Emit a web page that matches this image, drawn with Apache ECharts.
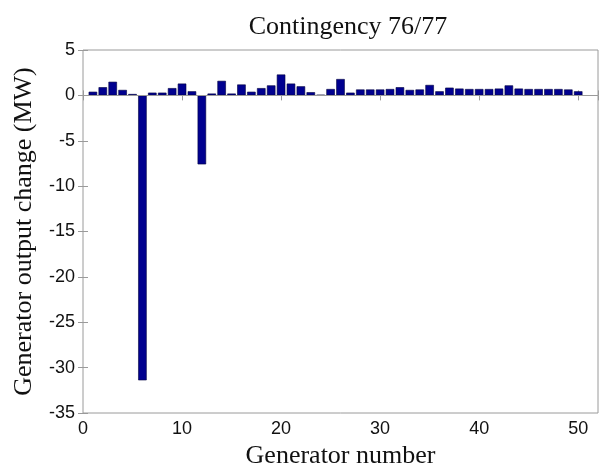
<!DOCTYPE html>
<html>
<head>
<meta charset="utf-8">
<script src="https://cdn.jsdelivr.net/npm/echarts@6/dist/echarts.min.js"></script>
<style>
  html, body { margin: 0; padding: 0; background: #fff; }
  #chart { width: 613px; height: 466px; }
</style>
</head>
<body>
<div id="chart"></div>
<script>
// Generator numbers 1..50 and their output change (MW) for contingency 76/77
const generators = [
  1, 2, 3, 4, 5, 6, 7, 8, 9, 10,
  11, 12, 13, 14, 15, 16, 17, 18, 19, 20,
  21, 22, 23, 24, 25, 26, 27, 28, 29, 30,
  31, 32, 33, 34, 35, 36, 37, 38, 39, 40,
  41, 42, 43, 44, 45, 46, 47, 48, 49, 50
];
const outputChange = [
  0.4, 0.9, 1.5, 0.6, 0.15, -31.4, 0.3, 0.3, 0.8, 1.3,
  0.45, -7.6, 0.2, 1.6, 0.2, 1.2, 0.4, 0.8, 1.1, 2.3,
  1.3, 1.0, 0.35, 0.05, 0.7, 1.8, 0.3, 0.65, 0.65, 0.65,
  0.7, 0.9, 0.6, 0.65, 1.15, 0.45, 0.85, 0.75, 0.7, 0.7,
  0.7, 0.75, 1.1, 0.75, 0.7, 0.7, 0.7, 0.7, 0.65, 0.45
];
const xTicks = [0, 10, 20, 30, 40, 50];
const yTicks = [5, 0, -5, -10, -15, -20, -25, -30, -35];

const serif = '"Liberation Serif", "Times New Roman", serif';
const sans = '"Liberation Sans", Arial, sans-serif';
const axisGray = '#9a9a9a';

const chart = echarts.init(document.getElementById('chart'));

const tickStyle = { show: true, inside: true, length: 5, lineStyle: { color: axisGray } };

chart.setOption({
  animation: false,
  backgroundColor: '#ffffff',
  title: {
    text: 'Contingency 76/77',
    left: 343, top: 9, textAlign: 'center',
    textStyle: { fontFamily: serif, fontSize: 26, fontWeight: 'normal', color: '#111' }
  },
  grid: {
    left: 83, right: 15, top: 50, bottom: 53,
    outerBoundsMode: 'none',
    containLabel: false,
    show: true, borderColor: axisGray, borderWidth: 1
  },
  xAxis: [{
    type: 'value', min: 0, max: 52, interval: 10,
    name: 'Generator number', nameLocation: 'middle', nameGap: 27,
    nameTextStyle: { fontFamily: serif, fontSize: 26, color: '#111' },
    axisLine: { show: false },
    axisTick: tickStyle,
    splitLine: { show: false },
    axisLabel: {
      fontFamily: sans, fontSize: 18, color: '#111', margin: 7,
      formatter: v => (xTicks.includes(v) ? String(v) : '')
    }
  }, {
    type: 'value', position: 'top', min: 0, max: 52, interval: 10,
    axisLine: { show: false }, axisTick: tickStyle,
    axisLabel: { show: false }, splitLine: { show: false }
  }],
  yAxis: [{
    type: 'value', min: -35, max: 5, interval: 5,
    name: 'Generator output change (MW)', nameLocation: 'middle', nameGap: 46,
    nameTextStyle: { fontFamily: serif, fontSize: 26, color: '#111' },
    axisLine: { show: false },
    axisTick: tickStyle,
    splitLine: { show: false },
    axisLabel: {
      fontFamily: sans, fontSize: 18, color: '#111', margin: 8,
      formatter: v => (yTicks.includes(v) ? String(v) : '')
    }
  }, {
    type: 'value', position: 'right', min: -35, max: 5, interval: 5,
    axisLine: { show: false }, axisTick: tickStyle,
    axisLabel: { show: false }, splitLine: { show: false }
  }],
  series: [{
    type: 'bar',
    xAxisIndex: 0, yAxisIndex: 0,
    barWidth: 8.5,
    data: generators.map((g, i) => [g, outputChange[i]]),
    itemStyle: { color: '#00008f', borderColor: '#000040', borderWidth: 0.6 },
    markLine: {
      silent: true, symbol: 'none', label: { show: false },
      lineStyle: { color: axisGray, type: 'solid', width: 1 },
      data: [{ yAxis: 0 }]
    },
    z: 3
  }]
});
</script>
</body>
</html>
